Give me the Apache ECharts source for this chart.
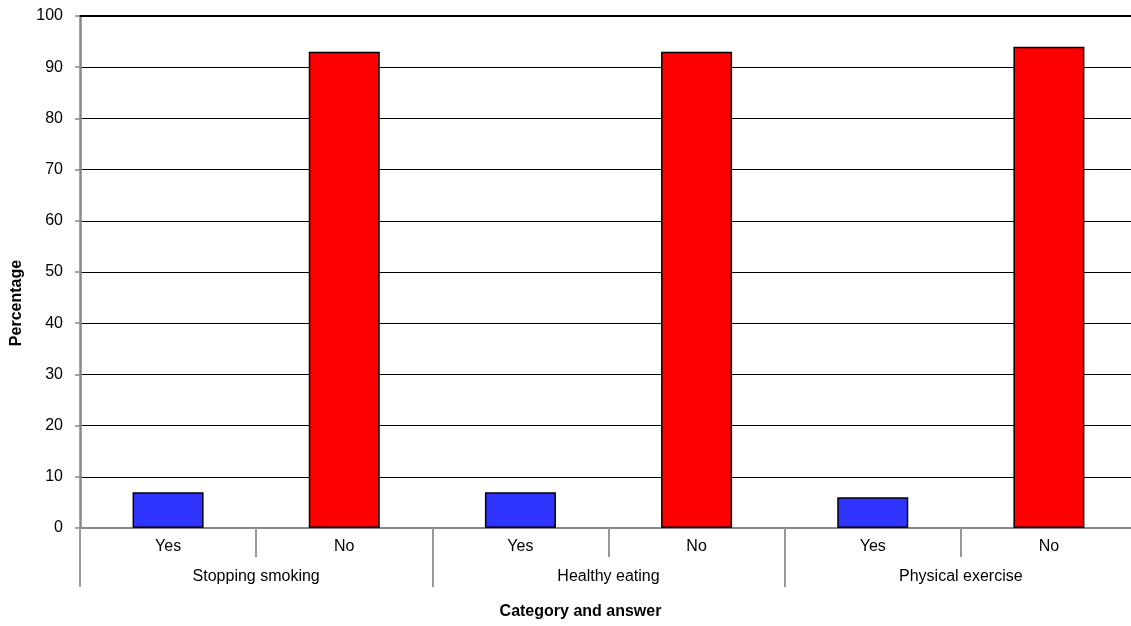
<!DOCTYPE html>
<html><head><meta charset="utf-8">
<script src="https://cdn.jsdelivr.net/npm/echarts@6/dist/echarts.min.js"></script>
<style>html,body{margin:0;padding:0;background:#fff}#c{width:1131px;height:626px}</style>
</head><body><div id="c"></div>
<script>
const answers = ['Yes', 'No'];
const groups = ['Stopping smoking', 'Healthy eating', 'Physical exercise'];
const yesValues = [7, 7, 6];
const noValues = [93, 93, 94];
const yTicks = { min: 0, max: 100, interval: 10 };
const colors = { Yes: '#3034FF', No: '#FF0000' };

const categories = [];
const data = [];
groups.forEach((g, i) => {
  categories.push(answers[0], answers[1]);
  data.push({ value: yesValues[i], itemStyle: { color: colors.Yes } });
  data.push({ value: noValues[i], itemStyle: { color: colors.No } });
});

const font = 'Liberation Sans, Arial, sans-serif';
const chart = echarts.init(document.getElementById('c'), null, { renderer: 'canvas' });
chart.setOption({
  animation: false,
  grid: { left: 80, top: 16, width: 1057, bottom: 98, containLabel: false, outerBoundsMode: 'none' },
  xAxis: [
    {
      type: 'category', data: categories, position: 'bottom',
      axisLine: { show: true, lineStyle: { color: '#888', width: 2 } },
      axisTick: { show: true, length: 29, lineStyle: { color: '#999', width: 2 } },
      axisLabel: { color: '#000', fontSize: 16, fontFamily: font, margin: 11 },
      splitLine: { show: false }
    },
    {
      type: 'category', data: groups, position: 'bottom',
      axisLine: { show: false },
      axisTick: { show: true, length: 59, lineStyle: { color: '#999', width: 2 } },
      axisLabel: { color: '#000', fontSize: 16, fontFamily: font, margin: 41 },
      name: 'Category and answer', nameLocation: 'middle', nameGap: 76,
      nameTextStyle: { color: '#000', fontSize: 16, fontWeight: 'bold', fontFamily: font, padding: [0, 56, 0, 0] },
      splitLine: { show: false }
    },
    {
      type: 'category', data: groups, position: 'top',
      axisLine: { show: true, lineStyle: { color: '#000', width: 2 } },
      axisTick: { show: false }, axisLabel: { show: false }, splitLine: { show: false }
    }
  ],
  yAxis: {
    type: 'value', min: yTicks.min, max: yTicks.max, interval: yTicks.interval,
    axisLine: { show: true, lineStyle: { color: '#888', width: 2.5 } },
    axisTick: { show: true, length: 5, lineStyle: { color: '#888', width: 1.5 } },
    axisLabel: { color: '#000', fontSize: 16, fontFamily: font, margin: 17 },
    splitLine: { show: true, lineStyle: { color: '#000', width: 1 } },
    name: 'Percentage', nameLocation: 'middle', nameGap: 55, nameRotate: 90,
    nameTextStyle: { color: '#000', fontSize: 16, fontWeight: 'bold', fontFamily: font, padding: [0, 62, 0, 0] }
  },
  series: [{
    type: 'bar', xAxisIndex: 0, data: data, barWidth: 71,
    itemStyle: { borderColor: '#000', borderWidth: 1.5 }
  }]
});
</script></body></html>
